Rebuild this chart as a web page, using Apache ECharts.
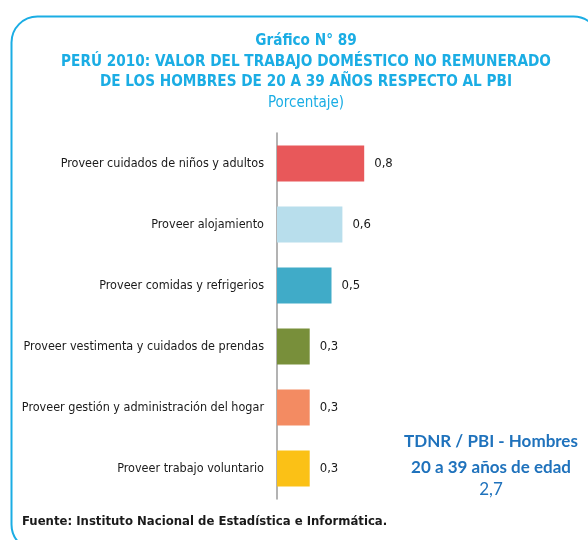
<!DOCTYPE html>
<html>
<head>
<meta charset="utf-8">
<script src="https://cdn.jsdelivr.net/npm/echarts@6/dist/echarts.min.js"></script>
<style>
  html, body { margin: 0; padding: 0; background: #fff; }
  #chart { width: 588px; height: 540px; }
</style>
</head>
<body>
<div id="chart"></div>
<script>
// Activities of unpaid domestic work, men aged 20-39
const categories = [
  'Proveer cuidados de niños y adultos',
  'Proveer alojamiento',
  'Proveer comidas y refrigerios',
  'Proveer vestimenta y cuidados de prendas',
  'Proveer gestión y administración del hogar',
  'Proveer trabajo voluntario'
];
// Share of GDP (%)
const values = [0.8, 0.6, 0.5, 0.3, 0.3, 0.3];
const barColors = ['#E8585A', '#B8DEEC', '#40ABC8', '#788F3A', '#F38B62', '#FBC116'];
const totalLabel = ['TDNR / PBI - Hombres', '20 a 39 años de edad', '2,7'];

const narrow = "'Liberation Sans Narrow', 'DejaVu Sans Condensed', 'Liberation Sans', sans-serif";
const titleColor = '#1BADE4';

const chart = echarts.init(document.getElementById('chart'), null, { renderer: 'canvas' });

chart.setOption({
  backgroundColor: '#ffffff',
  animation: false,
  title: [
    {
      text: 'Gráfico N° 89\nPERÚ 2010: VALOR DEL TRABAJO DOMÉSTICO NO REMUNERADO\nDE LOS HOMBRES DE 20 A 39 AÑOS RESPECTO AL PBI',
      left: 301, top: 26, textAlign: 'center',
      textStyle: { fontFamily: narrow, fontSize: 15.2, fontWeight: 'bold', color: titleColor, lineHeight: 20.5 }
    },
    {
      text: 'Porcentaje)',
      left: 301, top: 91, textAlign: 'center',
      textStyle: { fontFamily: narrow, fontSize: 15, fontWeight: 'normal', color: titleColor }
    }
  ],
  grid: { left: 277, top: 133, width: 218, height: 366, containLabel: false },
  xAxis: {
    type: 'value', min: 0, max: 2, show: false
  },
  yAxis: {
    type: 'category',
    data: categories,
    inverse: true,
    axisLine: { show: true, lineStyle: { color: '#9a9a9a', width: 1.5 } },
    axisTick: { show: false },
    axisLabel: { margin: 13, fontFamily: narrow, fontSize: 12.5, color: '#1a1a1a' }
  },
  series: [{
    type: 'bar',
    data: values.map((v, i) => ({ value: v, itemStyle: { color: barColors[i] } })),
    barCategoryGap: '41%',
    label: {
      show: true, position: 'right', distance: 10,
      fontFamily: narrow, fontSize: 13, color: '#1a1a1a',
      formatter: p => p.value.toFixed(1).replace('.', ',')
    }
  }],
  graphic: [
    {
      type: 'rect', left: 9, top: 14, z: -1,
      shape: { width: 588, height: 534, r: 26 },
      style: { fill: 'none', stroke: '#1BADE4', lineWidth: 2 }
    },
    {
      type: 'text', left: 22, top: 515,
      style: { text: 'Fuente: Instituto Nacional de Estadística e Informática.', font: "bold 13px " + narrow, fill: '#1a1a1a' }
    },
    {
      type: 'text', x: 491, y: 428,
      style: {
        text: totalLabel[0] + '\n' + totalLabel[1], textAlign: 'center',
        font: "bold 17px Lato, 'Open Sans', sans-serif", lineHeight: 26.5, fill: '#1F72BC'
      }
    },
    {
      type: 'text', x: 491, y: 481,
      style: {
        text: totalLabel[2], textAlign: 'center',
        font: "17px Lato, 'Open Sans', sans-serif", fill: '#1F72BC'
      }
    }
  ]
});
</script>
</body>
</html>
